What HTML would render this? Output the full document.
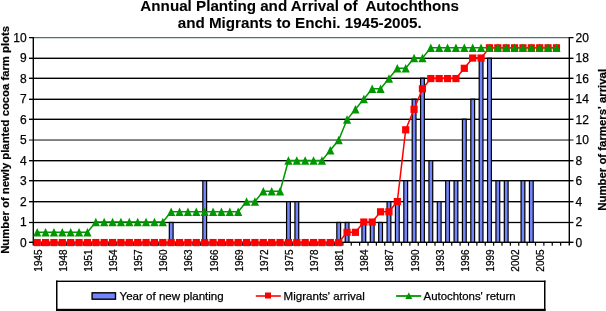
<!DOCTYPE html>
<html><head><meta charset="utf-8"><style>
html,body{margin:0;padding:0;background:#fff;}
body{width:606px;height:311px;position:relative;overflow:hidden;font-family:'Liberation Sans',sans-serif;-webkit-font-smoothing:antialiased;}
svg{will-change:transform;}
text{stroke:#000;stroke-width:0.25px;}
text.b{stroke-width:0.08px;}
text.b2{stroke-width:0.2px;}
</style></head><body>
<svg width="606" height="311" viewBox="0 0 606 311" style="position:absolute;left:0;top:0">
<text class="b" x="299.7" y="11.1" text-anchor="middle" style="font-family:'Liberation Sans',sans-serif;font-weight:bold;font-size:15.2px" xml:space="preserve">Annual Planting and Arrival of  Autochthons</text>
<text class="b" x="299.7" y="27.9" text-anchor="middle" style="font-family:'Liberation Sans',sans-serif;font-weight:bold;font-size:15.2px">and Migrants to Enchi. 1945-2005.</text>
<rect x="33.0" y="221.85" width="536.0" height="1.3" fill="#000"/>
<rect x="33.0" y="201.0" width="536.0" height="1.4" fill="#000"/>
<rect x="33.0" y="180.0" width="536.0" height="1.4" fill="#000"/>
<rect x="33.0" y="160.0" width="536.0" height="1.4" fill="#000"/>
<rect x="33.0" y="139.55" width="536.0" height="0.95" fill="#000"/>
<rect x="33.0" y="118.6" width="536.0" height="1.4" fill="#000"/>
<rect x="33.0" y="98.6" width="536.0" height="1.4" fill="#000"/>
<rect x="33.0" y="77.6" width="536.0" height="1.4" fill="#000"/>
<rect x="33.0" y="57.6" width="536.0" height="1.4" fill="#000"/>
<rect x="33.0" y="37.0" width="536.0" height="1.25" fill="#52706c"/>
<rect x="29" y="241.6" width="4" height="1.4" fill="#000"/>
<text x="26.6" y="246.86" text-anchor="end" style="font-family:'Liberation Sans',sans-serif;font-size:12px">0</text>
<rect x="29" y="221.85" width="4" height="1.3" fill="#000"/>
<text x="26.6" y="226.36" text-anchor="end" style="font-family:'Liberation Sans',sans-serif;font-size:12px">1</text>
<rect x="29" y="201.0" width="4" height="1.4" fill="#000"/>
<text x="26.6" y="205.86" text-anchor="end" style="font-family:'Liberation Sans',sans-serif;font-size:12px">2</text>
<rect x="29" y="180.0" width="4" height="1.4" fill="#000"/>
<text x="26.6" y="185.36" text-anchor="end" style="font-family:'Liberation Sans',sans-serif;font-size:12px">3</text>
<rect x="29" y="160.0" width="4" height="1.4" fill="#000"/>
<text x="26.6" y="164.86" text-anchor="end" style="font-family:'Liberation Sans',sans-serif;font-size:12px">4</text>
<rect x="29" y="139.55" width="4" height="0.95" fill="#000"/>
<text x="26.6" y="144.36" text-anchor="end" style="font-family:'Liberation Sans',sans-serif;font-size:12px">5</text>
<rect x="29" y="118.6" width="4" height="1.4" fill="#000"/>
<text x="26.6" y="123.86" text-anchor="end" style="font-family:'Liberation Sans',sans-serif;font-size:12px">6</text>
<rect x="29" y="98.6" width="4" height="1.4" fill="#000"/>
<text x="26.6" y="103.36" text-anchor="end" style="font-family:'Liberation Sans',sans-serif;font-size:12px">7</text>
<rect x="29" y="77.6" width="4" height="1.4" fill="#000"/>
<text x="26.6" y="82.86" text-anchor="end" style="font-family:'Liberation Sans',sans-serif;font-size:12px">8</text>
<rect x="29" y="57.6" width="4" height="1.4" fill="#000"/>
<text x="26.6" y="62.36" text-anchor="end" style="font-family:'Liberation Sans',sans-serif;font-size:12px">9</text>
<rect x="29" y="37.0" width="4" height="1.25" fill="#000"/>
<text x="26.6" y="41.86" text-anchor="end" style="font-family:'Liberation Sans',sans-serif;font-size:12px">10</text>
<rect x="569" y="241.6" width="4.5" height="1.4" fill="#000"/>
<text x="575.5" y="246.86" style="font-family:'Liberation Sans',sans-serif;font-size:12px">0</text>
<rect x="569" y="221.85" width="4.5" height="1.3" fill="#000"/>
<text x="575.5" y="226.36" style="font-family:'Liberation Sans',sans-serif;font-size:12px">2</text>
<rect x="569" y="201.0" width="4.5" height="1.4" fill="#000"/>
<text x="575.5" y="205.86" style="font-family:'Liberation Sans',sans-serif;font-size:12px">4</text>
<rect x="569" y="180.0" width="4.5" height="1.4" fill="#000"/>
<text x="575.5" y="185.36" style="font-family:'Liberation Sans',sans-serif;font-size:12px">6</text>
<rect x="569" y="160.0" width="4.5" height="1.4" fill="#000"/>
<text x="575.5" y="164.86" style="font-family:'Liberation Sans',sans-serif;font-size:12px">8</text>
<rect x="569" y="139.55" width="4.5" height="0.95" fill="#000"/>
<text x="575.5" y="144.36" style="font-family:'Liberation Sans',sans-serif;font-size:12px">10</text>
<rect x="569" y="118.6" width="4.5" height="1.4" fill="#000"/>
<text x="575.5" y="123.86" style="font-family:'Liberation Sans',sans-serif;font-size:12px">12</text>
<rect x="569" y="98.6" width="4.5" height="1.4" fill="#000"/>
<text x="575.5" y="103.36" style="font-family:'Liberation Sans',sans-serif;font-size:12px">14</text>
<rect x="569" y="77.6" width="4.5" height="1.4" fill="#000"/>
<text x="575.5" y="82.86" style="font-family:'Liberation Sans',sans-serif;font-size:12px">16</text>
<rect x="569" y="57.6" width="4.5" height="1.4" fill="#000"/>
<text x="575.5" y="62.36" style="font-family:'Liberation Sans',sans-serif;font-size:12px">18</text>
<rect x="569" y="37.0" width="4.5" height="1.25" fill="#000"/>
<text x="575.5" y="41.86" style="font-family:'Liberation Sans',sans-serif;font-size:12px">20</text>
<rect x="168.71" y="221.85" width="5.0" height="20.71" fill="#000"/>
<rect x="169.91" y="223.15" width="2.6" height="19.41" fill="#7385fa"/>
<rect x="202.21" y="180.00" width="5.0" height="62.56" fill="#000"/>
<rect x="203.41" y="181.30" width="2.6" height="61.26" fill="#7385fa"/>
<rect x="285.96" y="201.00" width="5.0" height="41.56" fill="#000"/>
<rect x="287.16" y="202.30" width="2.6" height="40.26" fill="#7385fa"/>
<rect x="294.33" y="201.00" width="5.0" height="41.56" fill="#000"/>
<rect x="295.53" y="202.30" width="2.6" height="40.26" fill="#7385fa"/>
<rect x="336.21" y="221.85" width="5.0" height="20.71" fill="#000"/>
<rect x="337.41" y="223.15" width="2.6" height="19.41" fill="#7385fa"/>
<rect x="344.58" y="221.85" width="5.0" height="20.71" fill="#000"/>
<rect x="345.78" y="223.15" width="2.6" height="19.41" fill="#7385fa"/>
<rect x="361.33" y="221.85" width="5.0" height="20.71" fill="#000"/>
<rect x="362.53" y="223.15" width="2.6" height="19.41" fill="#7385fa"/>
<rect x="369.71" y="221.85" width="5.0" height="20.71" fill="#000"/>
<rect x="370.91" y="223.15" width="2.6" height="19.41" fill="#7385fa"/>
<rect x="378.08" y="221.85" width="5.0" height="20.71" fill="#000"/>
<rect x="379.28" y="223.15" width="2.6" height="19.41" fill="#7385fa"/>
<rect x="386.46" y="201.00" width="5.0" height="41.56" fill="#000"/>
<rect x="387.66" y="202.30" width="2.6" height="40.26" fill="#7385fa"/>
<rect x="394.83" y="201.00" width="5.0" height="41.56" fill="#000"/>
<rect x="396.03" y="202.30" width="2.6" height="40.26" fill="#7385fa"/>
<rect x="403.21" y="180.00" width="5.0" height="62.56" fill="#000"/>
<rect x="404.41" y="181.30" width="2.6" height="61.26" fill="#7385fa"/>
<rect x="411.58" y="98.60" width="5.0" height="143.96" fill="#000"/>
<rect x="412.78" y="99.90" width="2.6" height="142.66" fill="#7385fa"/>
<rect x="419.96" y="77.60" width="5.0" height="164.96" fill="#000"/>
<rect x="421.16" y="78.90" width="2.6" height="163.66" fill="#7385fa"/>
<rect x="428.33" y="160.00" width="5.0" height="82.56" fill="#000"/>
<rect x="429.53" y="161.30" width="2.6" height="81.26" fill="#7385fa"/>
<rect x="436.71" y="201.00" width="5.0" height="41.56" fill="#000"/>
<rect x="437.91" y="202.30" width="2.6" height="40.26" fill="#7385fa"/>
<rect x="445.08" y="180.00" width="5.0" height="62.56" fill="#000"/>
<rect x="446.28" y="181.30" width="2.6" height="61.26" fill="#7385fa"/>
<rect x="453.46" y="180.00" width="5.0" height="62.56" fill="#000"/>
<rect x="454.66" y="181.30" width="2.6" height="61.26" fill="#7385fa"/>
<rect x="461.83" y="118.60" width="5.0" height="123.96" fill="#000"/>
<rect x="463.03" y="119.90" width="2.6" height="122.66" fill="#7385fa"/>
<rect x="470.21" y="98.60" width="5.0" height="143.96" fill="#000"/>
<rect x="471.41" y="99.90" width="2.6" height="142.66" fill="#7385fa"/>
<rect x="478.58" y="57.60" width="5.0" height="184.96" fill="#000"/>
<rect x="479.78" y="58.90" width="2.6" height="183.66" fill="#7385fa"/>
<rect x="486.96" y="57.60" width="5.0" height="184.96" fill="#000"/>
<rect x="488.16" y="58.90" width="2.6" height="183.66" fill="#7385fa"/>
<rect x="495.33" y="180.00" width="5.0" height="62.56" fill="#000"/>
<rect x="496.53" y="181.30" width="2.6" height="61.26" fill="#7385fa"/>
<rect x="503.71" y="180.00" width="5.0" height="62.56" fill="#000"/>
<rect x="504.91" y="181.30" width="2.6" height="61.26" fill="#7385fa"/>
<rect x="520.46" y="180.00" width="5.0" height="62.56" fill="#000"/>
<rect x="521.66" y="181.30" width="2.6" height="61.26" fill="#7385fa"/>
<rect x="528.83" y="180.00" width="5.0" height="62.56" fill="#000"/>
<rect x="530.03" y="181.30" width="2.6" height="61.26" fill="#7385fa"/>
<rect x="32.6" y="37" width="1.4" height="208.5" fill="#000"/>
<rect x="568.6" y="37" width="1.4" height="208.5" fill="#000"/>
<rect x="33.0" y="241.6" width="536.0" height="1.4" fill="#000"/>
<rect x="40.77" y="242.5" width="1.2" height="3.2" fill="#000"/>
<rect x="49.15" y="242.5" width="1.2" height="3.2" fill="#000"/>
<rect x="57.52" y="242.5" width="1.2" height="3.2" fill="#000"/>
<rect x="65.90" y="242.5" width="1.2" height="3.2" fill="#000"/>
<rect x="74.28" y="242.5" width="1.2" height="3.2" fill="#000"/>
<rect x="82.65" y="242.5" width="1.2" height="3.2" fill="#000"/>
<rect x="91.03" y="242.5" width="1.2" height="3.2" fill="#000"/>
<rect x="99.40" y="242.5" width="1.2" height="3.2" fill="#000"/>
<rect x="107.78" y="242.5" width="1.2" height="3.2" fill="#000"/>
<rect x="116.15" y="242.5" width="1.2" height="3.2" fill="#000"/>
<rect x="124.53" y="242.5" width="1.2" height="3.2" fill="#000"/>
<rect x="132.90" y="242.5" width="1.2" height="3.2" fill="#000"/>
<rect x="141.28" y="242.5" width="1.2" height="3.2" fill="#000"/>
<rect x="149.65" y="242.5" width="1.2" height="3.2" fill="#000"/>
<rect x="158.03" y="242.5" width="1.2" height="3.2" fill="#000"/>
<rect x="166.40" y="242.5" width="1.2" height="3.2" fill="#000"/>
<rect x="174.78" y="242.5" width="1.2" height="3.2" fill="#000"/>
<rect x="183.15" y="242.5" width="1.2" height="3.2" fill="#000"/>
<rect x="191.53" y="242.5" width="1.2" height="3.2" fill="#000"/>
<rect x="199.90" y="242.5" width="1.2" height="3.2" fill="#000"/>
<rect x="208.28" y="242.5" width="1.2" height="3.2" fill="#000"/>
<rect x="216.65" y="242.5" width="1.2" height="3.2" fill="#000"/>
<rect x="225.03" y="242.5" width="1.2" height="3.2" fill="#000"/>
<rect x="233.40" y="242.5" width="1.2" height="3.2" fill="#000"/>
<rect x="241.78" y="242.5" width="1.2" height="3.2" fill="#000"/>
<rect x="250.15" y="242.5" width="1.2" height="3.2" fill="#000"/>
<rect x="258.52" y="242.5" width="1.2" height="3.2" fill="#000"/>
<rect x="266.90" y="242.5" width="1.2" height="3.2" fill="#000"/>
<rect x="275.27" y="242.5" width="1.2" height="3.2" fill="#000"/>
<rect x="283.65" y="242.5" width="1.2" height="3.2" fill="#000"/>
<rect x="292.02" y="242.5" width="1.2" height="3.2" fill="#000"/>
<rect x="300.40" y="242.5" width="1.2" height="3.2" fill="#000"/>
<rect x="308.77" y="242.5" width="1.2" height="3.2" fill="#000"/>
<rect x="317.15" y="242.5" width="1.2" height="3.2" fill="#000"/>
<rect x="325.52" y="242.5" width="1.2" height="3.2" fill="#000"/>
<rect x="333.90" y="242.5" width="1.2" height="3.2" fill="#000"/>
<rect x="342.27" y="242.5" width="1.2" height="3.2" fill="#000"/>
<rect x="350.65" y="242.5" width="1.2" height="3.2" fill="#000"/>
<rect x="359.02" y="242.5" width="1.2" height="3.2" fill="#000"/>
<rect x="367.40" y="242.5" width="1.2" height="3.2" fill="#000"/>
<rect x="375.77" y="242.5" width="1.2" height="3.2" fill="#000"/>
<rect x="384.15" y="242.5" width="1.2" height="3.2" fill="#000"/>
<rect x="392.52" y="242.5" width="1.2" height="3.2" fill="#000"/>
<rect x="400.90" y="242.5" width="1.2" height="3.2" fill="#000"/>
<rect x="409.27" y="242.5" width="1.2" height="3.2" fill="#000"/>
<rect x="417.65" y="242.5" width="1.2" height="3.2" fill="#000"/>
<rect x="426.02" y="242.5" width="1.2" height="3.2" fill="#000"/>
<rect x="434.40" y="242.5" width="1.2" height="3.2" fill="#000"/>
<rect x="442.77" y="242.5" width="1.2" height="3.2" fill="#000"/>
<rect x="451.15" y="242.5" width="1.2" height="3.2" fill="#000"/>
<rect x="459.52" y="242.5" width="1.2" height="3.2" fill="#000"/>
<rect x="467.90" y="242.5" width="1.2" height="3.2" fill="#000"/>
<rect x="476.27" y="242.5" width="1.2" height="3.2" fill="#000"/>
<rect x="484.65" y="242.5" width="1.2" height="3.2" fill="#000"/>
<rect x="493.02" y="242.5" width="1.2" height="3.2" fill="#000"/>
<rect x="501.40" y="242.5" width="1.2" height="3.2" fill="#000"/>
<rect x="509.77" y="242.5" width="1.2" height="3.2" fill="#000"/>
<rect x="518.15" y="242.5" width="1.2" height="3.2" fill="#000"/>
<rect x="526.52" y="242.5" width="1.2" height="3.2" fill="#000"/>
<rect x="534.90" y="242.5" width="1.2" height="3.2" fill="#000"/>
<rect x="543.27" y="242.5" width="1.2" height="3.2" fill="#000"/>
<rect x="551.65" y="242.5" width="1.2" height="3.2" fill="#000"/>
<rect x="560.02" y="242.5" width="1.2" height="3.2" fill="#000"/>
<text transform="translate(41.64,249.4) rotate(-90)" text-anchor="end" style="font-family:'Liberation Sans',sans-serif;font-size:10px">1945</text>
<text transform="translate(66.76,249.4) rotate(-90)" text-anchor="end" style="font-family:'Liberation Sans',sans-serif;font-size:10px">1948</text>
<text transform="translate(91.89,249.4) rotate(-90)" text-anchor="end" style="font-family:'Liberation Sans',sans-serif;font-size:10px">1951</text>
<text transform="translate(117.01,249.4) rotate(-90)" text-anchor="end" style="font-family:'Liberation Sans',sans-serif;font-size:10px">1954</text>
<text transform="translate(142.14,249.4) rotate(-90)" text-anchor="end" style="font-family:'Liberation Sans',sans-serif;font-size:10px">1957</text>
<text transform="translate(167.26,249.4) rotate(-90)" text-anchor="end" style="font-family:'Liberation Sans',sans-serif;font-size:10px">1960</text>
<text transform="translate(192.39,249.4) rotate(-90)" text-anchor="end" style="font-family:'Liberation Sans',sans-serif;font-size:10px">1963</text>
<text transform="translate(217.51,249.4) rotate(-90)" text-anchor="end" style="font-family:'Liberation Sans',sans-serif;font-size:10px">1966</text>
<text transform="translate(242.64,249.4) rotate(-90)" text-anchor="end" style="font-family:'Liberation Sans',sans-serif;font-size:10px">1969</text>
<text transform="translate(267.76,249.4) rotate(-90)" text-anchor="end" style="font-family:'Liberation Sans',sans-serif;font-size:10px">1972</text>
<text transform="translate(292.89,249.4) rotate(-90)" text-anchor="end" style="font-family:'Liberation Sans',sans-serif;font-size:10px">1975</text>
<text transform="translate(318.01,249.4) rotate(-90)" text-anchor="end" style="font-family:'Liberation Sans',sans-serif;font-size:10px">1978</text>
<text transform="translate(343.14,249.4) rotate(-90)" text-anchor="end" style="font-family:'Liberation Sans',sans-serif;font-size:10px">1981</text>
<text transform="translate(368.26,249.4) rotate(-90)" text-anchor="end" style="font-family:'Liberation Sans',sans-serif;font-size:10px">1984</text>
<text transform="translate(393.39,249.4) rotate(-90)" text-anchor="end" style="font-family:'Liberation Sans',sans-serif;font-size:10px">1987</text>
<text transform="translate(418.51,249.4) rotate(-90)" text-anchor="end" style="font-family:'Liberation Sans',sans-serif;font-size:10px">1990</text>
<text transform="translate(443.64,249.4) rotate(-90)" text-anchor="end" style="font-family:'Liberation Sans',sans-serif;font-size:10px">1993</text>
<text transform="translate(468.76,249.4) rotate(-90)" text-anchor="end" style="font-family:'Liberation Sans',sans-serif;font-size:10px">1996</text>
<text transform="translate(493.89,249.4) rotate(-90)" text-anchor="end" style="font-family:'Liberation Sans',sans-serif;font-size:10px">1999</text>
<text transform="translate(519.01,249.4) rotate(-90)" text-anchor="end" style="font-family:'Liberation Sans',sans-serif;font-size:10px">2002</text>
<text transform="translate(544.14,249.4) rotate(-90)" text-anchor="end" style="font-family:'Liberation Sans',sans-serif;font-size:10px">2005</text>
<polyline fill="none" stroke="#ff0000" stroke-width="1.5" points="37.19,242.56 45.56,242.56 53.94,242.56 62.31,242.56 70.69,242.56 79.06,242.56 87.44,242.56 95.81,242.56 104.19,242.56 112.56,242.56 120.94,242.56 129.31,242.56 137.69,242.56 146.06,242.56 154.44,242.56 162.81,242.56 171.19,242.56 179.56,242.56 187.94,242.56 196.31,242.56 204.69,242.56 213.06,242.56 221.44,242.56 229.81,242.56 238.19,242.56 246.56,242.56 254.94,242.56 263.31,242.56 271.69,242.56 280.06,242.56 288.44,242.56 296.81,242.56 305.19,242.56 313.56,242.56 321.94,242.56 330.31,242.56 338.69,242.56 347.06,232.31 355.44,232.31 363.81,222.06 372.19,222.06 380.56,211.81 388.94,211.81 397.31,201.56 405.69,129.81 414.06,109.31 422.44,88.81 430.81,78.56 439.19,78.56 447.56,78.56 455.94,78.56 464.31,68.31 472.69,58.06 481.06,58.06 489.44,47.81 497.81,47.81 506.19,47.81 514.56,47.81 522.94,47.81 531.31,47.81 539.69,47.81 548.06,47.81 556.44,47.81"/>
<rect x="33.59" y="238.96" width="7.2" height="7.2" fill="#ff0000"/>
<rect x="41.96" y="238.96" width="7.2" height="7.2" fill="#ff0000"/>
<rect x="50.34" y="238.96" width="7.2" height="7.2" fill="#ff0000"/>
<rect x="58.71" y="238.96" width="7.2" height="7.2" fill="#ff0000"/>
<rect x="67.09" y="238.96" width="7.2" height="7.2" fill="#ff0000"/>
<rect x="75.46" y="238.96" width="7.2" height="7.2" fill="#ff0000"/>
<rect x="83.84" y="238.96" width="7.2" height="7.2" fill="#ff0000"/>
<rect x="92.21" y="238.96" width="7.2" height="7.2" fill="#ff0000"/>
<rect x="100.59" y="238.96" width="7.2" height="7.2" fill="#ff0000"/>
<rect x="108.96" y="238.96" width="7.2" height="7.2" fill="#ff0000"/>
<rect x="117.34" y="238.96" width="7.2" height="7.2" fill="#ff0000"/>
<rect x="125.71" y="238.96" width="7.2" height="7.2" fill="#ff0000"/>
<rect x="134.09" y="238.96" width="7.2" height="7.2" fill="#ff0000"/>
<rect x="142.46" y="238.96" width="7.2" height="7.2" fill="#ff0000"/>
<rect x="150.84" y="238.96" width="7.2" height="7.2" fill="#ff0000"/>
<rect x="159.21" y="238.96" width="7.2" height="7.2" fill="#ff0000"/>
<rect x="167.59" y="238.96" width="7.2" height="7.2" fill="#ff0000"/>
<rect x="175.96" y="238.96" width="7.2" height="7.2" fill="#ff0000"/>
<rect x="184.34" y="238.96" width="7.2" height="7.2" fill="#ff0000"/>
<rect x="192.71" y="238.96" width="7.2" height="7.2" fill="#ff0000"/>
<rect x="201.09" y="238.96" width="7.2" height="7.2" fill="#ff0000"/>
<rect x="209.46" y="238.96" width="7.2" height="7.2" fill="#ff0000"/>
<rect x="217.84" y="238.96" width="7.2" height="7.2" fill="#ff0000"/>
<rect x="226.21" y="238.96" width="7.2" height="7.2" fill="#ff0000"/>
<rect x="234.59" y="238.96" width="7.2" height="7.2" fill="#ff0000"/>
<rect x="242.96" y="238.96" width="7.2" height="7.2" fill="#ff0000"/>
<rect x="251.34" y="238.96" width="7.2" height="7.2" fill="#ff0000"/>
<rect x="259.71" y="238.96" width="7.2" height="7.2" fill="#ff0000"/>
<rect x="268.09" y="238.96" width="7.2" height="7.2" fill="#ff0000"/>
<rect x="276.46" y="238.96" width="7.2" height="7.2" fill="#ff0000"/>
<rect x="284.84" y="238.96" width="7.2" height="7.2" fill="#ff0000"/>
<rect x="293.21" y="238.96" width="7.2" height="7.2" fill="#ff0000"/>
<rect x="301.59" y="238.96" width="7.2" height="7.2" fill="#ff0000"/>
<rect x="309.96" y="238.96" width="7.2" height="7.2" fill="#ff0000"/>
<rect x="318.34" y="238.96" width="7.2" height="7.2" fill="#ff0000"/>
<rect x="326.71" y="238.96" width="7.2" height="7.2" fill="#ff0000"/>
<rect x="335.09" y="238.96" width="7.2" height="7.2" fill="#ff0000"/>
<rect x="343.46" y="228.71" width="7.2" height="7.2" fill="#ff0000"/>
<rect x="351.84" y="228.71" width="7.2" height="7.2" fill="#ff0000"/>
<rect x="360.21" y="218.46" width="7.2" height="7.2" fill="#ff0000"/>
<rect x="368.59" y="218.46" width="7.2" height="7.2" fill="#ff0000"/>
<rect x="376.96" y="208.21" width="7.2" height="7.2" fill="#ff0000"/>
<rect x="385.34" y="208.21" width="7.2" height="7.2" fill="#ff0000"/>
<rect x="393.71" y="197.96" width="7.2" height="7.2" fill="#ff0000"/>
<rect x="402.09" y="126.21" width="7.2" height="7.2" fill="#ff0000"/>
<rect x="410.46" y="105.71" width="7.2" height="7.2" fill="#ff0000"/>
<rect x="418.84" y="85.21" width="7.2" height="7.2" fill="#ff0000"/>
<rect x="427.21" y="74.96" width="7.2" height="7.2" fill="#ff0000"/>
<rect x="435.59" y="74.96" width="7.2" height="7.2" fill="#ff0000"/>
<rect x="443.96" y="74.96" width="7.2" height="7.2" fill="#ff0000"/>
<rect x="452.34" y="74.96" width="7.2" height="7.2" fill="#ff0000"/>
<rect x="460.71" y="64.71" width="7.2" height="7.2" fill="#ff0000"/>
<rect x="469.09" y="54.46" width="7.2" height="7.2" fill="#ff0000"/>
<rect x="477.46" y="54.46" width="7.2" height="7.2" fill="#ff0000"/>
<rect x="485.84" y="44.21" width="7.2" height="7.2" fill="#ff0000"/>
<rect x="494.21" y="44.21" width="7.2" height="7.2" fill="#ff0000"/>
<rect x="502.59" y="44.21" width="7.2" height="7.2" fill="#ff0000"/>
<rect x="510.96" y="44.21" width="7.2" height="7.2" fill="#ff0000"/>
<rect x="519.34" y="44.21" width="7.2" height="7.2" fill="#ff0000"/>
<rect x="527.71" y="44.21" width="7.2" height="7.2" fill="#ff0000"/>
<rect x="536.09" y="44.21" width="7.2" height="7.2" fill="#ff0000"/>
<rect x="544.46" y="44.21" width="7.2" height="7.2" fill="#ff0000"/>
<rect x="552.84" y="44.21" width="7.2" height="7.2" fill="#ff0000"/>
<polyline fill="none" stroke="#009600" stroke-width="1.5" points="37.19,232.31 45.56,232.31 53.94,232.31 62.31,232.31 70.69,232.31 79.06,232.31 87.44,232.31 95.81,222.06 104.19,222.06 112.56,222.06 120.94,222.06 129.31,222.06 137.69,222.06 146.06,222.06 154.44,222.06 162.81,222.06 171.19,211.81 179.56,211.81 187.94,211.81 196.31,211.81 204.69,211.81 213.06,211.81 221.44,211.81 229.81,211.81 238.19,211.81 246.56,201.56 254.94,201.56 263.31,191.31 271.69,191.31 280.06,191.31 288.44,160.56 296.81,160.56 305.19,160.56 313.56,160.56 321.94,160.56 330.31,150.31 338.69,140.06 347.06,119.56 355.44,109.31 363.81,99.06 372.19,88.81 380.56,88.81 388.94,78.56 397.31,68.31 405.69,68.31 414.06,58.06 422.44,58.06 430.81,47.81 439.19,47.81 447.56,47.81 455.94,47.81 464.31,47.81 472.69,47.81 481.06,47.81 489.44,47.81 497.81,47.81 506.19,47.81 514.56,47.81 522.94,47.81 531.31,47.81 539.69,47.81 548.06,47.81 556.44,47.81"/>
<polygon points="37.19,228.11 41.29,236.51 33.09,236.51" fill="#009600"/>
<polygon points="45.56,228.11 49.66,236.51 41.46,236.51" fill="#009600"/>
<polygon points="53.94,228.11 58.04,236.51 49.84,236.51" fill="#009600"/>
<polygon points="62.31,228.11 66.41,236.51 58.21,236.51" fill="#009600"/>
<polygon points="70.69,228.11 74.79,236.51 66.59,236.51" fill="#009600"/>
<polygon points="79.06,228.11 83.16,236.51 74.96,236.51" fill="#009600"/>
<polygon points="87.44,228.11 91.54,236.51 83.34,236.51" fill="#009600"/>
<polygon points="95.81,217.86 99.91,226.26 91.71,226.26" fill="#009600"/>
<polygon points="104.19,217.86 108.29,226.26 100.09,226.26" fill="#009600"/>
<polygon points="112.56,217.86 116.66,226.26 108.46,226.26" fill="#009600"/>
<polygon points="120.94,217.86 125.04,226.26 116.84,226.26" fill="#009600"/>
<polygon points="129.31,217.86 133.41,226.26 125.21,226.26" fill="#009600"/>
<polygon points="137.69,217.86 141.79,226.26 133.59,226.26" fill="#009600"/>
<polygon points="146.06,217.86 150.16,226.26 141.96,226.26" fill="#009600"/>
<polygon points="154.44,217.86 158.54,226.26 150.34,226.26" fill="#009600"/>
<polygon points="162.81,217.86 166.91,226.26 158.71,226.26" fill="#009600"/>
<polygon points="171.19,207.61 175.29,216.01 167.09,216.01" fill="#009600"/>
<polygon points="179.56,207.61 183.66,216.01 175.46,216.01" fill="#009600"/>
<polygon points="187.94,207.61 192.04,216.01 183.84,216.01" fill="#009600"/>
<polygon points="196.31,207.61 200.41,216.01 192.21,216.01" fill="#009600"/>
<polygon points="204.69,207.61 208.79,216.01 200.59,216.01" fill="#009600"/>
<polygon points="213.06,207.61 217.16,216.01 208.96,216.01" fill="#009600"/>
<polygon points="221.44,207.61 225.54,216.01 217.34,216.01" fill="#009600"/>
<polygon points="229.81,207.61 233.91,216.01 225.71,216.01" fill="#009600"/>
<polygon points="238.19,207.61 242.29,216.01 234.09,216.01" fill="#009600"/>
<polygon points="246.56,197.36 250.66,205.76 242.46,205.76" fill="#009600"/>
<polygon points="254.94,197.36 259.04,205.76 250.84,205.76" fill="#009600"/>
<polygon points="263.31,187.11 267.41,195.51 259.21,195.51" fill="#009600"/>
<polygon points="271.69,187.11 275.79,195.51 267.59,195.51" fill="#009600"/>
<polygon points="280.06,187.11 284.16,195.51 275.96,195.51" fill="#009600"/>
<polygon points="288.44,156.36 292.54,164.76 284.34,164.76" fill="#009600"/>
<polygon points="296.81,156.36 300.91,164.76 292.71,164.76" fill="#009600"/>
<polygon points="305.19,156.36 309.29,164.76 301.09,164.76" fill="#009600"/>
<polygon points="313.56,156.36 317.66,164.76 309.46,164.76" fill="#009600"/>
<polygon points="321.94,156.36 326.04,164.76 317.84,164.76" fill="#009600"/>
<polygon points="330.31,146.11 334.41,154.51 326.21,154.51" fill="#009600"/>
<polygon points="338.69,135.86 342.79,144.26 334.59,144.26" fill="#009600"/>
<polygon points="347.06,115.36 351.16,123.76 342.96,123.76" fill="#009600"/>
<polygon points="355.44,105.11 359.54,113.51 351.34,113.51" fill="#009600"/>
<polygon points="363.81,94.86 367.91,103.26 359.71,103.26" fill="#009600"/>
<polygon points="372.19,84.61 376.29,93.01 368.09,93.01" fill="#009600"/>
<polygon points="380.56,84.61 384.66,93.01 376.46,93.01" fill="#009600"/>
<polygon points="388.94,74.36 393.04,82.76 384.84,82.76" fill="#009600"/>
<polygon points="397.31,64.11 401.41,72.51 393.21,72.51" fill="#009600"/>
<polygon points="405.69,64.11 409.79,72.51 401.59,72.51" fill="#009600"/>
<polygon points="414.06,53.86 418.16,62.26 409.96,62.26" fill="#009600"/>
<polygon points="422.44,53.86 426.54,62.26 418.34,62.26" fill="#009600"/>
<polygon points="430.81,43.61 434.91,52.01 426.71,52.01" fill="#009600"/>
<polygon points="439.19,43.61 443.29,52.01 435.09,52.01" fill="#009600"/>
<polygon points="447.56,43.61 451.66,52.01 443.46,52.01" fill="#009600"/>
<polygon points="455.94,43.61 460.04,52.01 451.84,52.01" fill="#009600"/>
<polygon points="464.31,43.61 468.41,52.01 460.21,52.01" fill="#009600"/>
<polygon points="472.69,43.61 476.79,52.01 468.59,52.01" fill="#009600"/>
<polygon points="481.06,43.61 485.16,52.01 476.96,52.01" fill="#009600"/>
<polygon points="489.44,43.61 493.54,52.01 485.34,52.01" fill="#009600"/>
<polygon points="497.81,43.61 501.91,52.01 493.71,52.01" fill="#009600"/>
<polygon points="506.19,43.61 510.29,52.01 502.09,52.01" fill="#009600"/>
<polygon points="514.56,43.61 518.66,52.01 510.46,52.01" fill="#009600"/>
<polygon points="522.94,43.61 527.04,52.01 518.84,52.01" fill="#009600"/>
<polygon points="531.31,43.61 535.41,52.01 527.21,52.01" fill="#009600"/>
<polygon points="539.69,43.61 543.79,52.01 535.59,52.01" fill="#009600"/>
<polygon points="548.06,43.61 552.16,52.01 543.96,52.01" fill="#009600"/>
<polygon points="556.44,43.61 560.54,52.01 552.34,52.01" fill="#009600"/>
<text class="b2" transform="translate(9.4,139.9) rotate(-90)" text-anchor="middle" style="font-family:'Liberation Sans',sans-serif;font-weight:bold;font-size:11.3px">Number of newly planted cocoa farm plots</text>
<text class="b2" transform="translate(606.4,139.85) rotate(-90)" text-anchor="middle" style="font-family:'Liberation Sans',sans-serif;font-weight:bold;font-size:11.39px">Number of farmers' arrival</text>
<rect x="56" y="280.6" width="489.5" height="30.4" fill="#fff"/>
<rect x="56" y="280.6" width="489.5" height="1.4" fill="#000"/>
<rect x="56" y="308.8" width="489.5" height="2.2" fill="#000"/>
<rect x="56" y="280.6" width="1.5" height="30.4" fill="#000"/>
<rect x="544" y="280.6" width="1.5" height="30.4" fill="#000"/>
<rect x="92.1" y="292.8" width="23.4" height="6.4" fill="#7385fa" stroke="#000" stroke-width="1.4"/>
<text x="119.5" y="299.9" style="font-family:'Liberation Sans',sans-serif;font-size:11.55px">Year of new planting</text>
<line x1="255.8" x2="280.8" y1="296" y2="296" stroke="#ff0000" stroke-width="1.6"/>
<rect x="265" y="292.5" width="6" height="6" fill="#ff0000"/>
<text x="283.6" y="299.9" style="font-family:'Liberation Sans',sans-serif;font-size:11.55px">Migrants' arrival</text>
<line x1="396.1" x2="421.2" y1="296" y2="296" stroke="#009600" stroke-width="1.8"/>
<polygon points="408.8,292.3 412.3,299 405.3,299" fill="#009600"/>
<text x="423.6" y="299.9" style="font-family:'Liberation Sans',sans-serif;font-size:11.4px">Autochtons' return</text>
</svg>
</body></html>
